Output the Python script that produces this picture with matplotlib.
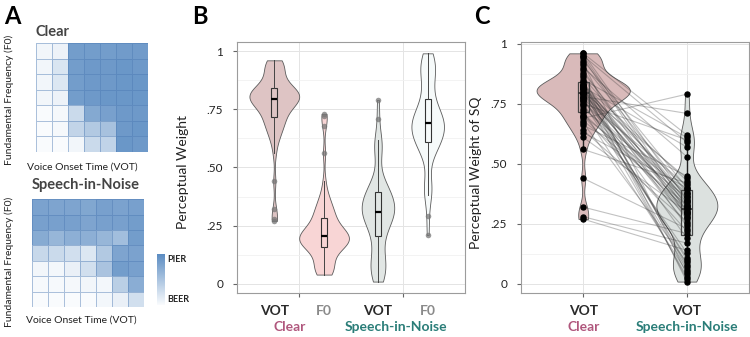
import numpy as np
import matplotlib
matplotlib.use('Agg')
import matplotlib.pyplot as plt
from matplotlib.colors import LinearSegmentedColormap

plt.rcParams['font.family'] = ['Lato', 'DejaVu Sans']

# ---- panel A: identification heat maps (rows top->bottom = high->low F0, cols = VOT steps)
clear_map = [
    [0.05, 0.08, 0.85, 0.85, 0.85, 0.86, 0.86],
    [0.05, 0.20, 0.85, 0.88, 0.88, 0.90, 0.88],
    [0.05, 0.18, 0.85, 0.88, 0.88, 0.90, 0.90],
    [0.05, 0.08, 0.85, 0.88, 0.90, 0.90, 0.90],
    [0.00, 0.03, 0.30, 0.74, 0.82, 0.88, 0.88],
    [0.00, 0.03, 0.35, 0.45, 0.52, 0.88, 0.90],
    [0.00, 0.00, 0.05, 0.30, 0.36, 0.90, 0.88],
]
noise_map = [
    [0.80, 0.78, 0.78, 0.76, 0.82, 0.80, 0.82],
    [0.82, 0.82, 0.82, 0.78, 0.82, 0.82, 0.85],
    [0.72, 0.62, 0.68, 0.68, 0.62, 0.55, 0.85],
    [0.32, 0.30, 0.25, 0.18, 0.45, 0.78, 0.80],
    [0.05, 0.04, 0.10, 0.25, 0.50, 0.85, 0.82],
    [0.02, 0.02, 0.03, 0.05, 0.04, 0.40, 0.70],
    [0.00, 0.00, 0.00, 0.00, 0.04, 0.10, 0.25],
]

# ---- panels B/C: per-listener perceptual weights (same listener order in both VOT lists)
clear_vot = [0.27, 0.28, 0.32, 0.44, 0.56, 0.61, 0.63, 0.64, 0.66, 0.67,
             0.68, 0.69, 0.70, 0.70, 0.71, 0.72, 0.73, 0.74, 0.75, 0.75,
             0.76, 0.76, 0.77, 0.77, 0.78, 0.78, 0.78, 0.79, 0.79, 0.79,
             0.80, 0.80, 0.80, 0.81, 0.81, 0.81, 0.82, 0.82, 0.82, 0.82,
             0.83, 0.83, 0.83, 0.83, 0.84, 0.84, 0.85, 0.86, 0.87, 0.88,
             0.89, 0.90, 0.91, 0.92, 0.93, 0.94, 0.95, 0.95, 0.96, 0.96]
noise_vot = [0.14, 0.17, 0.21, 0.23, 0.42, 0.30, 0.40, 0.26, 0.45, 0.09,
             0.33, 0.79, 0.36, 0.22, 0.31, 0.05, 0.38, 0.28, 0.60, 0.13,
             0.34, 0.29, 0.11, 0.41, 0.71, 0.25, 0.03, 0.32, 0.37, 0.19,
             0.30, 0.06, 0.44, 0.27, 0.35, 0.10, 0.57, 0.31, 0.02, 0.39,
             0.24, 0.33, 0.08, 0.43, 0.07, 0.29, 0.61, 0.36, 0.01, 0.34,
             0.28, 0.53, 0.38, 0.04, 0.40, 0.30, 0.59, 0.32, 0.62, 0.35]
clear_f0 = [0.04, 0.04, 0.05, 0.05, 0.06, 0.07, 0.08, 0.09, 0.10, 0.11,
            0.12, 0.13, 0.14, 0.15, 0.16, 0.16, 0.17, 0.17, 0.17, 0.17,
            0.18, 0.18, 0.18, 0.18, 0.19, 0.19, 0.19, 0.20, 0.20, 0.20,
            0.21, 0.21, 0.21, 0.22, 0.22, 0.22, 0.23, 0.23, 0.24, 0.24,
            0.25, 0.25, 0.26, 0.27, 0.28, 0.29, 0.30, 0.30, 0.31, 0.32,
            0.33, 0.34, 0.36, 0.37, 0.39, 0.44, 0.56, 0.68, 0.72, 0.73]
noise_f0 = [0.21, 0.29, 0.38, 0.39, 0.40, 0.41, 0.43, 0.47, 0.55, 0.56,
            0.57, 0.58, 0.59, 0.60, 0.60, 0.61, 0.62, 0.62, 0.63, 0.64,
            0.64, 0.65, 0.65, 0.66, 0.66, 0.67, 0.67, 0.68, 0.68, 0.69,
            0.69, 0.70, 0.70, 0.70, 0.71, 0.71, 0.72, 0.72, 0.73, 0.74,
            0.75, 0.76, 0.77, 0.78, 0.79, 0.81, 0.83, 0.85, 0.87, 0.89,
            0.90, 0.91, 0.92, 0.93, 0.94, 0.95, 0.96, 0.97, 0.98, 0.99]

ytick_vals = [0, 0.25, 0.5, 0.75, 1]
ytick_text = ['0', '.25', '.50', '.75', '1']

pink_txt = '#b0577d'
teal_txt = '#2a7d78'
edge = '#5b5b5b'


def kde(vals, grid):
    v = np.asarray(vals, float)
    n = len(v)
    q75, q25 = np.percentile(v, [75, 25])
    bw = 0.9 * min(v.std(ddof=1), (q75 - q25) / 1.34) * n ** -0.2
    z = (grid[:, None] - v[None, :]) / bw
    return np.exp(-0.5 * z ** 2).sum(1) / (n * bw * np.sqrt(2 * np.pi))


def violin(ax, vals, pos, dmax, half, color, z=2):
    grid = np.linspace(min(vals), max(vals), 300)
    w = kde(vals, grid) / dmax * half
    ax.fill_betweenx(grid, pos - w, pos + w, facecolor=color, edgecolor=edge,
                     lw=0.6, zorder=z)


def style_axes(ax, ylab, ylim):
    ax.set_xlim(0.4, 2.6)
    ax.set_ylim(*ylim)
    ax.set_yticks(ytick_vals)
    ax.set_yticklabels(ytick_text, fontsize=8.5, color='#222')
    ax.set_yticks([0.125, 0.375, 0.625, 0.875], minor=True)
    ax.set_xticks([1, 2])
    ax.set_xticklabels(['', ''])
    ax.grid(which='major', color='#e4e4e4', lw=0.7)
    ax.grid(which='minor', axis='y', color='#f1f1f1', lw=0.6)
    ax.tick_params(which='major', length=3, color='#666', pad=7)
    ax.tick_params(which='minor', length=0)
    ax.set_axisbelow(True)
    for s in ax.spines.values():
        s.set_color('#9c9c9c')
        s.set_linewidth(0.8)
    ax.set_ylabel(ylab, fontsize=10, color='#222')
    ax.yaxis.set_label_coords(-0.21, 0.48)


fig = plt.figure(figsize=(7.5, 3.37), dpi=100)

# ---------------- panel A
cmap = LinearSegmentedColormap.from_list('bp', ['#f9fbfd', '#5b8cc2'])
heat_specs = [
    (clear_map, [0.048, 0.549, 0.149, 0.323], 'Clear', 0.905, (-0.195, 0.48), (0.41, -0.10)),
    (noise_map, [0.0427, 0.089, 0.149, 0.320], 'Speech-in-Noise', 0.452, (-0.16, 0.42), (0.44, -0.075)),
]
for data, rect, title, ty, ylc, xlc in heat_specs:
    hax = fig.add_axes(rect)
    mesh = hax.pcolormesh(np.array(data), cmap=cmap, vmin=0, vmax=1,
                          edgecolors=(0.30, 0.48, 0.70, 0.45), linewidth=0.6)
    hax.invert_yaxis()
    hax.set_xticks([])
    hax.set_yticks([])
    for s in hax.spines.values():
        s.set_visible(False)
    hax.set_ylabel('Fundamental Frequency (F0)', fontsize=7.5, color='#222')
    hax.yaxis.set_label_coords(*ylc)
    hax.set_xlabel('Voice Onset Time (VOT)', fontsize=7.5, color='#222')
    hax.xaxis.set_label_coords(*xlc)
    fig.text(rect[0] - 0.001, ty, title, fontsize=10.5, weight='bold',
             color='#444', va='center', ha='left')

cax = fig.add_axes([0.2093, 0.095, 0.0107, 0.151])
cb = fig.colorbar(mesh, cax=cax)
cb.outline.set_visible(False)
cax.set_yticks([])
cax.text(1.25, 0.98, 'PIER', transform=cax.transAxes, fontsize=6.5,
         weight='bold', va='top', ha='left', color='#222')
cax.text(1.25, 0.02, 'BEER', transform=cax.transAxes, fontsize=6.5,
         weight='bold', va='bottom', ha='left', color='#222')

fig.text(0.006, 0.985, 'A', fontsize=17, weight='bold', va='top')
fig.text(0.256, 0.985, 'B', fontsize=17, weight='bold', va='top')
fig.text(0.632, 0.985, 'C', fontsize=17, weight='bold', va='top')

# ---------------- panel B
axb = fig.add_axes([0.316, 0.1306, 0.304, 0.745])
b_sets = [
    (clear_vot, 0.76, '#dec4c4', 'VOT', '#2a2a2a'),
    (clear_f0, 1.24, '#f8d5d5', 'F0', '#8a8a8a'),
    (noise_vot, 1.76, '#e1e6e4', 'VOT', '#2a2a2a'),
    (noise_f0, 2.24, '#f6fafa', 'F0', '#8a8a8a'),
]
grid_all = [np.linspace(min(v), max(v), 300) for v, *_ in b_sets]
dmax_b = max(kde(v, g).max() for (v, *_), g in zip(b_sets, grid_all))
for vals, pos, col, lab, lcol in b_sets:
    violin(axb, vals, pos, dmax_b, 0.24, col)
    axb.boxplot(vals, positions=[pos], widths=0.055, patch_artist=True,
                showcaps=False, manage_ticks=False, zorder=3,
                boxprops=dict(facecolor=col, edgecolor='#333', lw=0.8),
                medianprops=dict(color='black', lw=1.6),
                whiskerprops=dict(color='#444', lw=0.7),
                flierprops=dict(marker='o', markersize=4, markerfacecolor='#777',
                                markeredgecolor='none', alpha=0.75))
    axb.text(pos, -0.072, lab, transform=axb.get_xaxis_transform(), ha='center',
             va='center', fontsize=10, weight='bold', color=lcol)
style_axes(axb, 'Perceptual Weight', (-0.039, 1.039))
axb.text(0.91, -0.135, 'Clear', transform=axb.get_xaxis_transform(), ha='center',
         va='center', fontsize=10, weight='bold', color=pink_txt)
axb.text(1.93, -0.135, 'Speech-in-Noise', transform=axb.get_xaxis_transform(),
         ha='center', va='center', fontsize=10, weight='bold', color=teal_txt)

# ---------------- panel C
axc = fig.add_axes([0.6947, 0.1306, 0.304, 0.745])
c_sets = [(clear_vot, 1, '#d9baba'), (noise_vot, 2, '#dce1df')]
dmax_c = max(kde(v, np.linspace(min(v), max(v), 300)).max() for v, _, _ in c_sets)
for vals, pos, col in c_sets:
    violin(axc, vals, pos, dmax_c, 0.45, col)
xs = np.vstack([np.full(len(clear_vot), 1.0), np.full(len(noise_vot), 2.0)])
ys = np.vstack([clear_vot, noise_vot])
axc.plot(xs, ys, color='#333', alpha=0.3, lw=0.8, zorder=3)
for vals, pos, col in c_sets:
    axc.boxplot(vals, positions=[pos], widths=0.105, patch_artist=True,
                showcaps=False, showfliers=False, manage_ticks=False, zorder=4,
                boxprops=dict(facecolor='none', edgecolor='#444', lw=0.9),
                medianprops=dict(color='#333', lw=1.2),
                whiskerprops=dict(color='#222', lw=1.0))
    axc.plot(np.full(len(vals), float(pos)), vals, 'o', color='black',
             markersize=3.6, zorder=5)
    axc.text(pos, -0.072, 'VOT', transform=axc.get_xaxis_transform(), ha='center',
             va='center', fontsize=10, weight='bold', color='#2a2a2a')
style_axes(axc, 'Perceptual Weight of SQ', (-0.0375, 1.0075))
axc.yaxis.set_label_coords(-0.17, 0.48)
axc.text(1, -0.135, 'Clear', transform=axc.get_xaxis_transform(), ha='center',
         va='center', fontsize=10, weight='bold', color=pink_txt)
axc.text(2, -0.135, 'Speech-in-Noise', transform=axc.get_xaxis_transform(),
         ha='center', va='center', fontsize=10, weight='bold', color=teal_txt)

fig.savefig('out.png', dpi=100)
